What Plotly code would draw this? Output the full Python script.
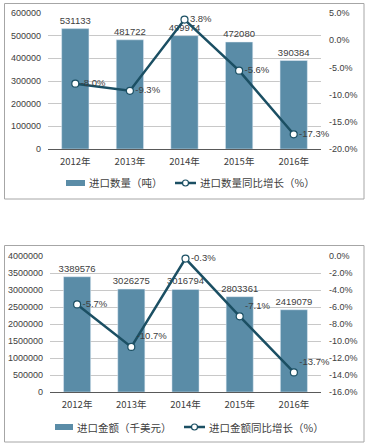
import plotly.graph_objects as go

# ---------------- data ----------------
years = ["2012年", "2013年", "2014年", "2015年", "2016年"]

qty = [531133, 481722, 499974, 472080, 390384]          # 进口数量（吨）
qty_growth = [-8.0, -9.3, 3.8, -5.6, -17.3]             # 进口数量同比增长（%）

amt = [3389576, 3026275, 3016794, 2803361, 2419079]     # 进口金额（千美元）
amt_growth = [-5.7, -10.7, -0.3, -7.1, -13.7]           # 进口金额同比增长（%）

qty_ticks = [0, 100000, 200000, 300000, 400000, 500000, 600000]
qty_pct_ticks = [-20, -15, -10, -5, 0, 5]
amt_ticks = [0, 500000, 1000000, 1500000, 2000000, 2500000, 3000000, 3500000, 4000000]
amt_pct_ticks = [-16, -14, -12, -10, -8, -6, -4, -2, 0]

legend_top = ["进口数量（吨）", "进口数量同比增长（%）"]
legend_bottom = ["进口金额（千美元）", "进口金额同比增长（%）"]

# ---------------- style ----------------
W, H = 368, 446
BAR = "#5a8ca7"
LINE = "#1b4f63"
TXT = "#404040"
GRID = "#c8c8c8"
AXIS = "#595959"
FONT = "Liberation Sans, Arial, Noto Sans CJK SC, sans-serif"
CJK = "Noto Sans CJK SC, Liberation Sans, sans-serif"


def px_x(p):
    return p / W


def px_y(p):
    return 1 - p / H


def pct(v):
    return f"{v:.1f}%"


fig = go.Figure()

# top chart
fig.add_trace(go.Bar(
    x=years, y=qty, name=legend_top[0], marker_color=BAR, width=0.5,
    text=[str(v) for v in qty], textposition="outside", constraintext="none",
    outsidetextfont=dict(size=9.5, color=TXT, family=FONT), cliponaxis=False,
    xaxis="x", yaxis="y", showlegend=False,
))
fig.add_trace(go.Scatter(
    x=years, y=qty_growth, name=legend_top[1], mode="lines+markers+text",
    line=dict(color=LINE, width=2.5),
    marker=dict(symbol="circle", size=7, color="white", line=dict(color=LINE, width=1.2)),
    text=[pct(v) for v in qty_growth], textposition="middle right",
    textfont=dict(size=9.5, color=TXT, family=FONT), cliponaxis=False,
    xaxis="x", yaxis="y2", showlegend=False,
))

# bottom chart
fig.add_trace(go.Bar(
    x=years, y=amt, name=legend_bottom[0], marker_color=BAR, width=0.5,
    text=[str(v) for v in amt], textposition="outside", constraintext="none",
    outsidetextfont=dict(size=9.5, color=TXT, family=FONT), cliponaxis=False,
    xaxis="x2", yaxis="y3", showlegend=False,
))
fig.add_trace(go.Scatter(
    x=years, y=amt_growth, name=legend_bottom[1], mode="lines+markers+text",
    line=dict(color=LINE, width=2.5),
    marker=dict(symbol="circle", size=7, color="white", line=dict(color=LINE, width=1.2)),
    text=[pct(v) for v in amt_growth],
    textposition=["middle right", "top right", "middle right", "top right", "top right"],
    textfont=dict(size=9.5, color=TXT, family=FONT), cliponaxis=False,
    xaxis="x2", yaxis="y4", showlegend=False,
))

tickfont = dict(size=9, color=TXT, family=FONT)
xfont = dict(size=9.5, color=TXT, family=CJK)

shapes = [
    dict(type="rect", xref="paper", yref="paper",
         x0=px_x(4.5), x1=px_x(364), y0=px_y(199), y1=px_y(3.5),
         line=dict(color="#a6a6a6", width=1), fillcolor="rgba(0,0,0,0)", layer="below"),
    dict(type="rect", xref="paper", yref="paper",
         x0=px_x(4.5), x1=px_x(364), y0=px_y(442), y1=px_y(245.5),
         line=dict(color="#a6a6a6", width=1), fillcolor="rgba(0,0,0,0)", layer="below"),
]
annotations = []


def add_legend(yc, bar_x0, bar_x1, line_x0, line_x1, labels):
    shapes.append(dict(type="rect", xref="paper", yref="paper",
                       x0=px_x(bar_x0), x1=px_x(bar_x1), y0=px_y(yc + 3), y1=px_y(yc - 3),
                       line=dict(width=0), fillcolor=BAR))
    annotations.append(dict(xref="paper", yref="paper", x=px_x(bar_x1 + 1.5), y=px_y(yc),
                            xanchor="left", yanchor="middle", showarrow=False,
                            text=labels[0], font=dict(size=10.5, color=TXT, family=CJK)))
    shapes.append(dict(type="line", xref="paper", yref="paper",
                       x0=px_x(line_x0), x1=px_x(line_x1), y0=px_y(yc), y1=px_y(yc),
                       line=dict(color=LINE, width=2.5)))
    cx = (line_x0 + line_x1) / 2
    shapes.append(dict(type="circle", xref="paper", yref="paper",
                       x0=px_x(cx - 3), x1=px_x(cx + 3), y0=px_y(yc + 3), y1=px_y(yc - 3),
                       line=dict(color=LINE, width=1.2), fillcolor="white"))
    annotations.append(dict(xref="paper", yref="paper", x=px_x(line_x1 + 1.5), y=px_y(yc),
                            xanchor="left", yanchor="middle", showarrow=False,
                            text=labels[1], font=dict(size=10.5, color=TXT, family=CJK)))


add_legend(183, 66, 85, 175, 196, legend_top)
add_legend(427, 55, 73, 184, 205, legend_bottom)

fig.update_layout(
    width=W, height=H,
    margin=dict(l=0, r=0, t=0, b=0, autoexpand=False),
    paper_bgcolor="white", plot_bgcolor="white",
    font=dict(family=FONT, color=TXT),
    showlegend=False,
    xaxis=dict(domain=[px_x(48), px_x(321)], anchor="y", type="category",
               showline=True, linecolor=AXIS, linewidth=1, showgrid=False,
               ticks="", tickfont=xfont, ticklabelstandoff=4, automargin=False),
    yaxis=dict(domain=[px_y(149), px_y(13)], anchor="x", range=[0, 600000],
               tickvals=qty_ticks, ticktext=[str(v) for v in qty_ticks],
               showgrid=True, gridcolor=GRID, gridwidth=1, zeroline=False,
               showline=False, ticks="", tickfont=tickfont, ticklabelstandoff=6,
               automargin=False),
    yaxis2=dict(overlaying="y", side="right", anchor="x", range=[-20, 5],
                tickvals=qty_pct_ticks, ticktext=[pct(v) for v in qty_pct_ticks],
                showgrid=False, zeroline=False, showline=False, ticks="",
                tickfont=tickfont, ticklabelstandoff=7, automargin=False),
    xaxis2=dict(domain=[px_x(50), px_x(321)], anchor="y3", type="category",
                showline=True, linecolor=AXIS, linewidth=1, showgrid=False,
                ticks="", tickfont=xfont, ticklabelstandoff=4, automargin=False),
    yaxis3=dict(domain=[px_y(392), px_y(256)], anchor="x2", range=[0, 4000000],
                tickvals=amt_ticks, ticktext=[str(v) for v in amt_ticks],
                showgrid=True, gridcolor=GRID, gridwidth=1, zeroline=False,
                showline=False, ticks="", tickfont=tickfont, ticklabelstandoff=6,
                automargin=False),
    yaxis4=dict(overlaying="y3", side="right", anchor="x2", range=[-16, 0],
                tickvals=amt_pct_ticks, ticktext=[pct(v) for v in amt_pct_ticks],
                showgrid=False, zeroline=False, showline=False, ticks="",
                tickfont=tickfont, ticklabelstandoff=7, automargin=False),
    shapes=shapes,
    annotations=annotations,
)

fig.write_html("out.html", config={"displayModeBar": False},
               post_script="document.body.style.margin='0';")
